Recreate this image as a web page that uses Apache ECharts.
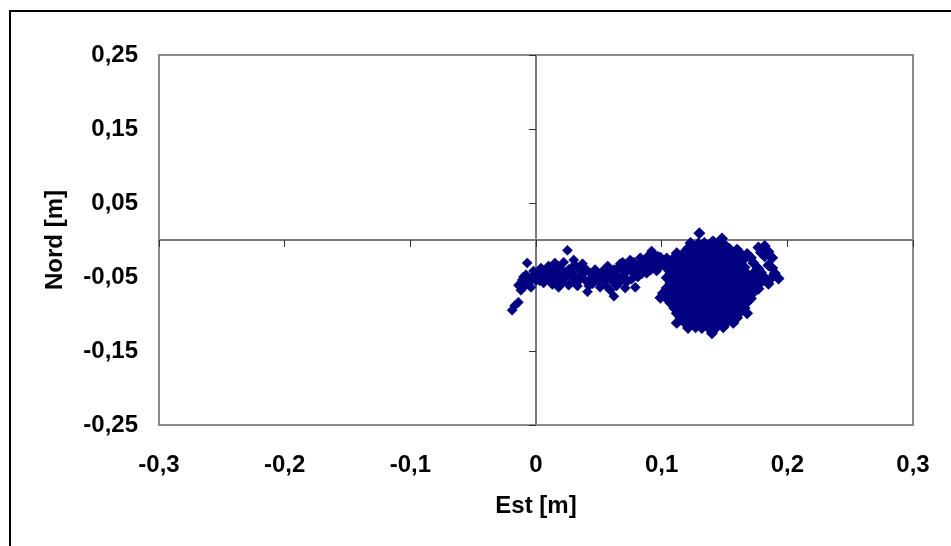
<!DOCTYPE html>
<html>
<head>
<meta charset="utf-8">
<script src="https://cdn.jsdelivr.net/npm/echarts@6/dist/echarts.min.js"></script>
<style>
html,body{margin:0;padding:0;background:#fff;}
#chart{width:951px;height:546px;}
</style>
</head>
<body>
<div id="chart"></div>
<script>
// ---- data ----
const xTickValues = [-0.3, -0.2, -0.1, 0, 0.1, 0.2, 0.3];
const xTickLabels = ['-0,3', '-0,2', '-0,1', '0', '0,1', '0,2', '0,3'];
const yTickValues = [-0.25, -0.15, -0.05, 0.05, 0.15, 0.25];
const yTickLabels = ['-0,25', '-0,15', '-0,05', '0,05', '0,15', '0,25'];
const xAxisTitle = 'Est [m]';
const yAxisTitle = 'Nord [m]';

// western "tail" of the trajectory
const tailPoints = [
  [-0.019,-0.095],[-0.017,-0.089],[-0.014,-0.084],[-0.014,-0.061],[-0.012,-0.068],
  [-0.011,-0.054],[-0.009,-0.062],[-0.007,-0.031],[-0.008,-0.047],[-0.005,-0.053],
  [-0.004,-0.064],[-0.002,-0.042],[0.000,-0.055],[0.002,-0.047],[0.004,-0.038],
  [0.006,-0.058],[0.008,-0.047],[0.010,-0.035],[0.011,-0.055],[0.014,-0.042],
  [0.015,-0.031],[0.017,-0.053],[0.018,-0.064],[0.020,-0.041],[0.022,-0.030],
  [0.025,-0.014],[0.024,-0.050],[0.026,-0.061],[0.028,-0.038],[0.030,-0.027],
  [0.031,-0.049],[0.033,-0.062],[0.035,-0.041],[0.037,-0.032],[0.039,-0.054],
  [0.041,-0.070],[0.043,-0.045],[0.045,-0.059],[0.048,-0.050],[0.051,-0.064],
  [0.053,-0.042],[0.055,-0.055],[0.057,-0.035],[0.059,-0.068],[0.060,-0.049],
  [0.062,-0.076],[0.064,-0.062],[0.065,-0.038],[0.068,-0.049],[0.069,-0.030],
  [0.071,-0.065],[0.073,-0.041],[0.075,-0.027],[0.076,-0.053],[0.079,-0.064],
  [0.080,-0.035],[0.083,-0.024],[0.084,-0.046],[0.087,-0.032],[0.089,-0.022],
  [0.091,-0.041],[0.092,-0.015],[0.094,-0.030],[0.096,-0.042],[0.097,-0.022],
  [0.099,-0.035],
  [-0.010,-0.050],[-0.006,-0.058],[-0.003,-0.050],[0.003,-0.055],[0.005,-0.044],
  [0.009,-0.041],[0.012,-0.048],[0.013,-0.060],[0.016,-0.046],[0.019,-0.036],
  [0.021,-0.058],[0.023,-0.044],[0.027,-0.047],[0.029,-0.056],[0.032,-0.035],
  [0.034,-0.055],[0.036,-0.048],[0.040,-0.040],[0.042,-0.062],[0.046,-0.052],
  [0.049,-0.044],[0.050,-0.057],[0.054,-0.048],[0.056,-0.062],[0.058,-0.043],
  [0.061,-0.056],[0.063,-0.045],[0.066,-0.058],[0.067,-0.032],[0.070,-0.047],
  [0.072,-0.057],[0.074,-0.035],[0.077,-0.044],[0.078,-0.030],[0.081,-0.050],
  [0.082,-0.040],[0.085,-0.028],[0.086,-0.038],[0.088,-0.045],[0.090,-0.032],
  [0.093,-0.036],[0.095,-0.025],[0.098,-0.029],
  [0.038,-0.042],[0.044,-0.052],[0.047,-0.040],[0.052,-0.050],[0.057,-0.048],
  [0.062,-0.040],[0.065,-0.052],[0.069,-0.040],[0.071,-0.052],[0.076,-0.038],
  [0.079,-0.048],[0.083,-0.035],[0.087,-0.042],[0.091,-0.027],[0.094,-0.020],
  [0.010,-0.050],[0.007,-0.052],[0.017,-0.040],[0.020,-0.050],[0.026,-0.040],
  [0.029,-0.045]
];

// dense cluster around the final position
const clusterPoints = [
  [0.130,0.009],[0.148,0.002],[0.141,-0.002],
  [0.123,-0.004],[0.129,-0.005],[0.134,-0.004],[0.140,-0.003],[0.146,-0.005],[0.151,-0.008],
  [0.121,-0.011],[0.127,-0.010],[0.132,-0.011],[0.138,-0.012],[0.143,-0.011],[0.149,-0.010],[0.154,-0.012],[0.160,-0.013],[0.177,-0.010],[0.182,-0.008],
  [0.112,-0.018],[0.118,-0.017],[0.123,-0.018],[0.129,-0.019],[0.134,-0.018],[0.140,-0.017],[0.146,-0.018],[0.151,-0.019],[0.157,-0.018],[0.162,-0.017],[0.168,-0.019],[0.179,-0.017],[0.185,-0.016],
  [0.099,-0.024],[0.104,-0.025],[0.110,-0.024],[0.115,-0.023],[0.121,-0.024],[0.127,-0.025],[0.132,-0.024],[0.138,-0.023],[0.143,-0.024],[0.149,-0.025],[0.154,-0.024],[0.160,-0.023],[0.166,-0.025],[0.171,-0.024],[0.182,-0.022],[0.188,-0.024],
  [0.101,-0.031],[0.107,-0.030],[0.112,-0.031],[0.118,-0.032],[0.123,-0.031],[0.129,-0.030],[0.134,-0.031],[0.140,-0.032],[0.146,-0.031],[0.151,-0.030],[0.157,-0.031],[0.162,-0.032],[0.173,-0.031],[0.185,-0.034],
  [0.104,-0.038],[0.110,-0.039],[0.115,-0.038],[0.121,-0.037],[0.127,-0.038],[0.132,-0.039],[0.138,-0.038],[0.143,-0.037],[0.149,-0.038],[0.154,-0.039],[0.160,-0.038],[0.166,-0.037],[0.177,-0.039],[0.188,-0.038],
  [0.107,-0.045],[0.112,-0.044],[0.118,-0.045],[0.123,-0.046],[0.129,-0.045],[0.134,-0.044],[0.140,-0.045],[0.146,-0.046],[0.151,-0.045],[0.157,-0.044],[0.162,-0.045],[0.168,-0.046],[0.173,-0.045],[0.179,-0.044],[0.190,-0.045],
  [0.104,-0.051],[0.110,-0.052],[0.115,-0.051],[0.121,-0.050],[0.127,-0.051],[0.132,-0.052],[0.138,-0.051],[0.143,-0.050],[0.149,-0.051],[0.154,-0.052],[0.160,-0.051],[0.166,-0.050],[0.171,-0.051],[0.177,-0.052],[0.182,-0.051],[0.188,-0.050],[0.193,-0.052],
  [0.107,-0.058],[0.112,-0.057],[0.118,-0.058],[0.123,-0.059],[0.129,-0.058],[0.134,-0.057],[0.140,-0.058],[0.146,-0.059],[0.151,-0.058],[0.157,-0.057],[0.162,-0.058],[0.168,-0.059],[0.173,-0.058],[0.179,-0.057],[0.185,-0.059],
  [0.104,-0.065],[0.110,-0.066],[0.115,-0.065],[0.121,-0.064],[0.127,-0.065],[0.132,-0.066],[0.138,-0.065],[0.143,-0.064],[0.149,-0.065],[0.154,-0.066],[0.160,-0.065],[0.166,-0.064],[0.171,-0.065],[0.177,-0.066],
  [0.101,-0.072],[0.107,-0.071],[0.112,-0.072],[0.118,-0.073],[0.123,-0.072],[0.129,-0.071],[0.134,-0.072],[0.140,-0.073],[0.146,-0.072],[0.151,-0.071],[0.157,-0.072],[0.162,-0.073],[0.168,-0.072],[0.173,-0.071],
  [0.099,-0.078],[0.104,-0.079],[0.110,-0.078],[0.115,-0.077],[0.121,-0.078],[0.127,-0.079],[0.132,-0.078],[0.138,-0.077],[0.143,-0.078],[0.149,-0.079],[0.154,-0.078],[0.160,-0.077],[0.166,-0.078],[0.171,-0.079],
  [0.107,-0.085],[0.112,-0.086],[0.118,-0.085],[0.123,-0.084],[0.129,-0.085],[0.134,-0.086],[0.140,-0.085],[0.146,-0.084],[0.151,-0.085],[0.157,-0.086],[0.162,-0.085],[0.168,-0.084],
  [0.110,-0.092],[0.115,-0.091],[0.121,-0.092],[0.127,-0.093],[0.132,-0.092],[0.138,-0.091],[0.143,-0.092],[0.149,-0.093],[0.154,-0.092],[0.160,-0.091],[0.166,-0.092],
  [0.112,-0.099],[0.118,-0.098],[0.123,-0.099],[0.129,-0.100],[0.134,-0.099],[0.140,-0.098],[0.146,-0.099],[0.151,-0.100],[0.157,-0.099],[0.162,-0.098],[0.168,-0.099],
  [0.115,-0.105],[0.121,-0.106],[0.127,-0.105],[0.132,-0.104],[0.138,-0.105],[0.143,-0.106],[0.149,-0.105],[0.154,-0.104],[0.160,-0.105],
  [0.112,-0.112],[0.118,-0.111],[0.123,-0.112],[0.129,-0.113],[0.134,-0.112],[0.140,-0.111],[0.146,-0.112],[0.151,-0.113],[0.157,-0.112],
  [0.121,-0.119],[0.127,-0.118],[0.132,-0.119],[0.138,-0.120],[0.143,-0.119],[0.149,-0.118],
  [0.140,-0.126]
];

// ---- chart ----
function labelFor(values, labels, v) {
  let best = 0, d = Infinity;
  for (let i = 0; i < values.length; i++) {
    const dd = Math.abs(values[i] - v);
    if (dd < d) { d = dd; best = i; }
  }
  return d < 1e-6 ? labels[best] : '';
}

const FONT = "'Liberation Sans', Arial, sans-serif";
const textStyle = { fontFamily: FONT, fontWeight: 'bold', fontSize: 24, color: '#000' };
const NAVY = '#000080';

const chart = echarts.init(document.getElementById('chart'), null, { renderer: 'canvas' });
chart.setOption({
  animation: false,
  backgroundColor: '#fff',
  graphic: [{
    type: 'rect', silent: true,
    shape: { x: 10, y: 11, width: 2000, height: 2000 },
    style: { fill: 'none', stroke: '#000', lineWidth: 2 }
  }],
  grid: {
    left: 159, right: 38, top: 55, bottom: 121,
    show: true, borderColor: '#8c8c8c', borderWidth: 2, backgroundColor: 'transparent'
  },
  xAxis: [{
    type: 'value', min: -0.3, max: 0.3, interval: 0.1, position: 'bottom',
    axisLine: { show: false, onZero: false },
    axisTick: { show: false },
    splitLine: { show: false },
    axisLabel: Object.assign({
      margin: 28, showMinLabel: true, showMaxLabel: true,
      formatter: v => labelFor(xTickValues, xTickLabels, v)
    }, textStyle),
    name: xAxisTitle, nameLocation: 'middle', nameGap: 69,
    nameTextStyle: textStyle
  }, {
    type: 'value', min: -0.3, max: 0.3, interval: 0.1, position: 'top',
    axisLine: { show: true, onZero: true, onZeroAxisIndex: 0, lineStyle: { color: '#7a7a7a', width: 2 } },
    axisTick: { show: true, inside: true, length: 7, lineStyle: { color: '#333', width: 1 } },
    axisLabel: { show: false },
    splitLine: { show: false }
  }],
  yAxis: [{
    type: 'value', min: -0.25, max: 0.25, position: 'left',
    axisLine: { show: false, onZero: false },
    axisTick: { show: false },
    splitLine: { show: false },
    axisLabel: Object.assign({
      margin: 21, customValues: yTickValues,
      formatter: v => labelFor(yTickValues, yTickLabels, v)
    }, textStyle),
    name: yAxisTitle, nameLocation: 'middle', nameGap: 92, nameRotate: 90,
    nameTextStyle: textStyle
  }, {
    type: 'value', min: -0.25, max: 0.25, position: 'right',
    axisLine: { show: true, onZero: true, onZeroAxisIndex: 0, lineStyle: { color: '#7a7a7a', width: 2 } },
    axisTick: { show: true, inside: true, length: 7, customValues: yTickValues, lineStyle: { color: '#333', width: 1 } },
    axisLabel: { show: false },
    splitLine: { show: false }
  }],
  series: [{
    type: 'scatter',
    xAxisIndex: 0, yAxisIndex: 0,
    symbol: 'diamond', symbolSize: 10,
    itemStyle: { color: NAVY, borderColor: NAVY, borderWidth: 0.6, opacity: 1 },
    data: tailPoints
  }, {
    type: 'scatter',
    xAxisIndex: 0, yAxisIndex: 0,
    symbol: 'diamond', symbolSize: 10,
    itemStyle: { color: NAVY, borderColor: NAVY, borderWidth: 1.4, opacity: 1 },
    data: clusterPoints
  }]
});
</script>
</body>
</html>
